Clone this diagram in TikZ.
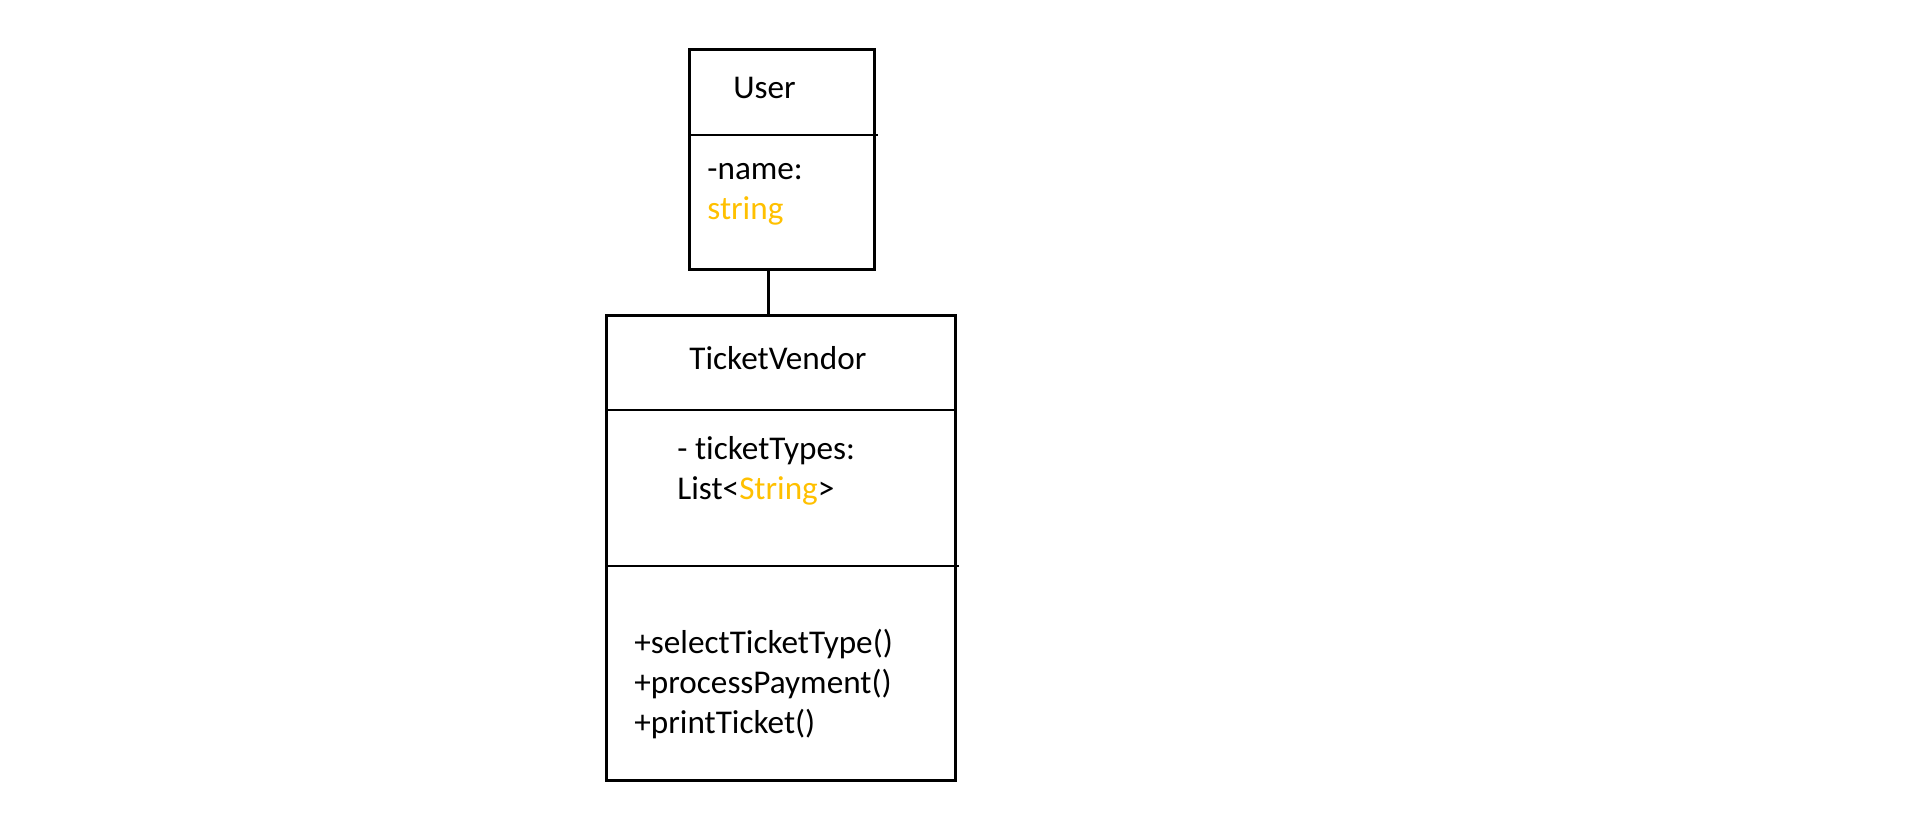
\documentclass[tikz,border=0pt]{standalone}
\usepackage{fontspec}
\setmainfont{Carlito}[Ligatures={NoCommon}]
\usetikzlibrary{positioning}
\definecolor{gold}{HTML}{FFC000}
\tikzset{
  classbox/.style={draw,line width=1.4pt,inner sep=0pt,anchor=north west},
  member/.style={anchor=base west,inner sep=0pt,font=\fontsize{16.6}{20}\selectfont},
  divider/.style={line width=1.4pt}
}

\begin{document}
\begin{tikzpicture}[x=0.5pt,y=-0.5pt]
  \useasboundingbox (0,0) rectangle (1914,822);
  % classes
  \node[classbox,minimum width=92.5pt,minimum height=110pt] (user) at (688,48) {};
  \node[classbox,minimum width=174.5pt,minimum height=232.5pt] (vendor) at (605,314) {};
  % compartments
  \coordinate (userdiv) at (688,135);
  \coordinate (vendordiv1) at (605,410);
  \coordinate (vendordiv2) at (605,566);
  \draw[divider] (userdiv) -- ([xshift=1pt]userdiv -| user.east);
  \draw[divider] (vendordiv1) -- (vendordiv1 -| vendor.east);
  \draw[divider] (vendordiv2) -- ([xshift=1pt]vendordiv2 -| vendor.east);
  % texts
  \node[member] (usertitle) at (733,99) {User};
  \node[member] (username) at (707,180) {-name:};
  \node[member,text=gold] (usertype) at (707,220) {string};
  \node[member] (vendortitle) at (689,370) {TicketVendor};
  \node[member] (tickettypes) at (677,460) {- ticketTypes:};
  \node[member] (listtype) at (677,500) {List<{\color{gold}String}>};
  \node[member] (select) at (634,653) {+selectTicketType()};
  \node[member] (payment) at (634,693) {+processPayment()};
  \node[member] (print) at (634,733) {+printTicket()};
  % association
  \draw[divider] ([xshift=-6.75pt]user.south) -- ([xshift=-6.75pt]user.south |- vendor.north);
\end{tikzpicture}
\end{document}
